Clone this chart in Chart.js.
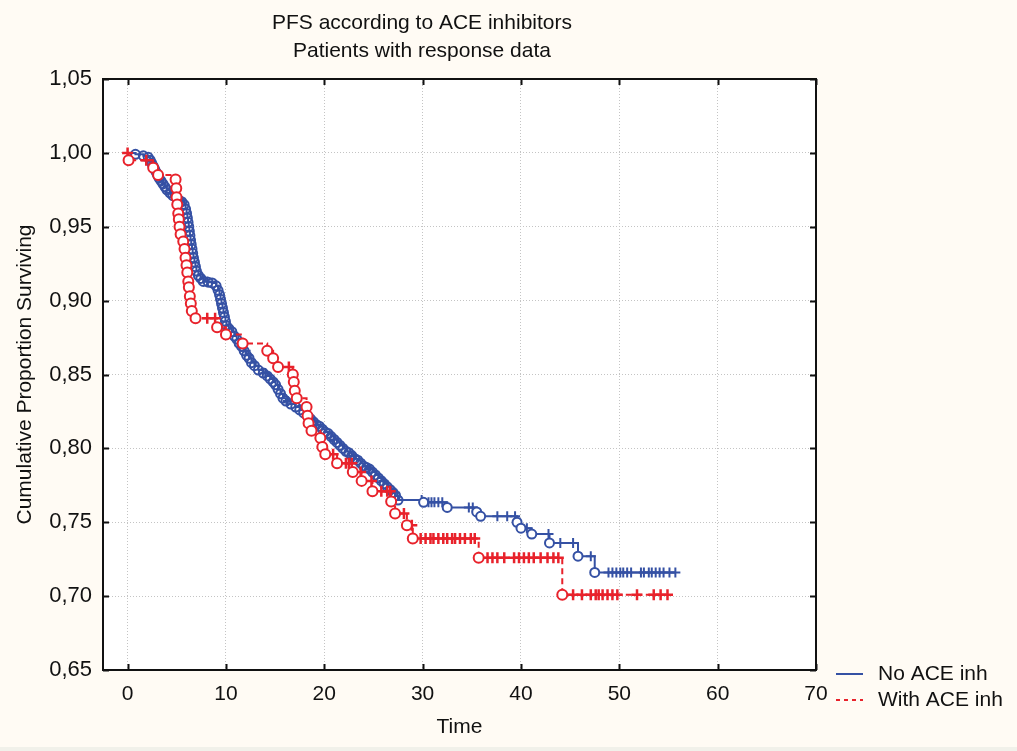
<!DOCTYPE html>
<html>
<head>
<meta charset="utf-8">
<script src="https://cdn.jsdelivr.net/npm/chart.js@4.4.0/dist/chart.umd.min.js"></script>
<style>
  html, body { margin: 0; padding: 0; background: #fffbf4; }
  #wrap { position: relative; width: 1017px; height: 751px; overflow: hidden; }
  #wrap:after { content: ''; position: absolute; left: 0; right: 0; bottom: 0; height: 4px; background: #f1f1ea; }
  canvas { display: block; }
</style>
</head>
<body>
<div id="wrap"><canvas id="km" width="1017" height="751"></canvas></div>
<script>
const TITLE = ['PFS according to ACE inhibitors', 'Patients with response data'];
const X_LABEL = 'Time';
const Y_LABEL = 'Cumulative Proportion Surviving';
const SERIES = ['No ACE inh', 'With ACE inh'];
const X_TICKS = [0, 10, 20, 30, 40, 50, 60, 70];
const Y_TICKS = [0.65, 0.70, 0.75, 0.80, 0.85, 0.90, 0.95, 1.00, 1.05];

// No ACE inh: event times / survival after each event, censored times
const noAceTime = [0.8, 1.6, 2.1, 2.3, 2.45, 2.6, 2.75, 2.9, 3.05, 3.2,
  3.4, 3.6, 3.8, 4.0, 4.3, 4.6, 4.9, 5.2, 5.5, 5.75,
  5.9, 6.0, 6.08, 6.15, 6.22, 6.28, 6.34, 6.4, 6.47, 6.55,
  6.62, 6.7, 6.8, 6.9, 7.0, 7.2, 7.45, 7.7, 8.2, 8.6,
  9.0, 9.2, 9.35, 9.45, 9.55, 9.65, 9.75, 9.85, 9.95, 10.05,
  10.3, 10.6, 10.85, 11.1, 11.35, 11.6, 11.85, 12.1, 12.35, 12.6,
  12.9, 13.3, 13.8, 14.2, 14.5, 14.8, 15.05, 15.3, 15.55, 15.8,
  16.1, 16.6, 17.1, 17.5, 17.9, 18.3, 18.6, 18.9, 19.2, 19.5,
  19.8, 20.1, 20.4, 20.7, 21.0, 21.3, 21.6, 21.9, 22.2, 22.5,
  22.8, 23.1, 23.4, 23.7, 24.0, 24.3, 24.6, 24.9, 25.2, 25.5,
  25.8, 26.1, 26.4, 26.7, 27.0, 27.25, 27.5, 30.1, 32.5, 35.5,
  35.9, 39.6, 40.0, 41.1, 42.9, 45.8, 47.5];
const noAceSurv = [0.999, 0.998, 0.997, 0.995, 0.993, 0.991, 0.989, 0.987, 0.985, 0.983,
  0.981, 0.979, 0.977, 0.975, 0.973, 0.971, 0.970, 0.968, 0.967, 0.965,
  0.962, 0.959, 0.956, 0.953, 0.950, 0.947, 0.944, 0.941, 0.938, 0.935,
  0.932, 0.929, 0.926, 0.923, 0.920, 0.917, 0.915, 0.913, 0.9125, 0.912,
  0.910, 0.907, 0.904, 0.901, 0.898, 0.895, 0.892, 0.889, 0.886, 0.883,
  0.881, 0.879, 0.876, 0.874, 0.871, 0.869, 0.866, 0.863, 0.861, 0.858,
  0.856, 0.853, 0.851, 0.849, 0.847, 0.845, 0.843, 0.840, 0.837, 0.834,
  0.832, 0.830, 0.828, 0.826, 0.824, 0.822, 0.820, 0.818, 0.816, 0.815,
  0.813, 0.811, 0.810, 0.808, 0.806, 0.804, 0.802, 0.800, 0.798, 0.797,
  0.795, 0.793, 0.792, 0.790, 0.788, 0.787, 0.786, 0.784, 0.782, 0.780,
  0.778, 0.776, 0.774, 0.772, 0.770, 0.768, 0.765, 0.7635, 0.760, 0.757,
  0.754, 0.750, 0.746, 0.742, 0.736, 0.727, 0.716];
const noAceCensored = [4.4, 8.1, 12.0, 14.0, 16.3, 19.2, 21.0, 23.0, 24.6, 26.0, 27.2, 29.9, 30.6, 30.9, 31.2, 31.6, 32.0, 34.7, 35.1,
  37.6, 38.6, 39.4, 40.6, 42.8, 44.0, 45.3, 47.1, 48.9, 49.3, 49.7, 50.1, 50.4, 50.8, 51.2, 52.2, 52.5, 53.0, 53.3, 53.7, 54.1, 54.5, 55.1, 55.7];

// With ACE inh
const aceTime = [0.1, 2.6, 3.1, 4.88, 4.95, 4.98, 5.05, 5.15, 5.21, 5.28, 5.39, 5.66, 5.79, 5.89, 5.99, 6.07, 6.17, 6.23, 6.33, 6.43,
  6.53, 6.91, 9.1, 10.0, 11.7, 14.2, 14.8, 15.3, 16.8, 16.9, 17.0, 17.2, 18.2, 18.3, 18.4, 18.7, 19.6, 19.8, 20.1, 21.3,
  22.9, 23.8, 24.9, 26.8, 27.2, 28.4, 29.0, 35.7, 44.2];
const aceSurv = [0.995, 0.990, 0.985, 0.982, 0.976, 0.970, 0.965, 0.959, 0.955, 0.950, 0.945, 0.940, 0.935, 0.929, 0.924, 0.919, 0.913, 0.909, 0.903, 0.898,
  0.893, 0.888, 0.882, 0.877, 0.871, 0.866, 0.861, 0.855, 0.850, 0.845, 0.839, 0.834, 0.828, 0.822, 0.817, 0.812, 0.807, 0.801, 0.796, 0.790,
  0.784, 0.778, 0.771, 0.764, 0.756, 0.748, 0.739, 0.726, 0.701];
const aceCensored = [0, 1.9, 8.1, 8.9, 16.4, 20.9, 22.2, 22.5, 22.8, 23.7, 24.8, 25.8, 26.4, 26.7, 28.1, 28.9,
  29.8, 30.3, 30.8, 31.1, 31.6, 32.1, 32.5, 33.0, 33.3, 33.8, 34.3, 34.9, 35.3,
  36.6, 37.1, 37.6, 38.3, 39.3, 39.8, 40.3, 40.8, 41.3, 42.0, 42.7, 43.3, 43.8,
  45.3, 46.2, 47.1, 47.6, 47.9, 48.3, 48.8, 49.3, 49.8, 51.8, 53.5, 54.2, 54.9];

const BLUE = '#3551a4';
const RED = '#e8222b';
const FONT = '"Liberation Sans", Arial, sans-serif';

function survAt(times, surv, t) {
  let s = 1;
  times.forEach((tt, i) => { if (tt <= t) s = surv[i]; });
  return s;
}

function stepPoints(times, surv, cens) {
  const end = Math.max(times[times.length - 1], ...cens);
  return [{ x: 0, y: 1 }, ...times.map((t, i) => ({ x: t, y: surv[i] })), { x: end, y: surv[surv.length - 1] }];
}

const events = (times, surv) => times.map((t, i) => ({ x: t, y: surv[i] }));
const censored = (times, surv, cens) => cens.map(t => ({ x: t, y: survAt(times, surv, t) }));

// frame, inward ticks, title, axis titles and legend
const decor = {
  id: 'decor',
  beforeDraw(chart) {
    const { ctx, chartArea: a } = chart;
    ctx.save();
    ctx.fillStyle = '#fff';
    ctx.fillRect(a.left, a.top, a.right - a.left, a.bottom - a.top);
    ctx.restore();
  },
  afterDraw(chart) {
    const { ctx, chartArea: a, scales: { x, y } } = chart;
    ctx.save();
    ctx.strokeStyle = '#111';
    ctx.lineWidth = 2;
    ctx.strokeRect(a.left, a.top, a.right - a.left, a.bottom - a.top);
    ctx.beginPath();
    X_TICKS.forEach(v => {
      const px = Math.round(x.getPixelForValue(v)) + 0.5;
      ctx.moveTo(px, a.top); ctx.lineTo(px, a.top + 6);
      ctx.moveTo(px, a.bottom); ctx.lineTo(px, a.bottom - 6);
    });
    Y_TICKS.forEach(v => {
      const py = Math.round(y.getPixelForValue(v)) + 0.5;
      ctx.moveTo(a.left, py); ctx.lineTo(a.left + 6, py);
      ctx.moveTo(a.right, py); ctx.lineTo(a.right - 6, py);
    });
    ctx.stroke();

    ctx.fillStyle = '#111';
    ctx.font = '21px ' + FONT;
    ctx.textAlign = 'center';
    ctx.textBaseline = 'middle';
    TITLE.forEach((line, i) => ctx.fillText(line, 422, 23 + i * 28));
    ctx.fillText(X_LABEL, (a.left + a.right) / 2, 727);
    ctx.save();
    ctx.translate(25, (a.top + a.bottom) / 2);
    ctx.rotate(-Math.PI / 2);
    ctx.fillText(Y_LABEL, 0, 0);
    ctx.restore();

    // legend
    ctx.textAlign = 'left';
    [BLUE, RED].forEach((c, i) => {
      const ly = 674 + i * 26;
      ctx.strokeStyle = c;
      ctx.lineWidth = 2;
      ctx.setLineDash(i ? [4, 4] : []);
      ctx.beginPath();
      ctx.moveTo(836, ly); ctx.lineTo(863, ly);
      ctx.stroke();
      ctx.fillText(SERIES[i], 878, ly);
    });
    ctx.restore();
  }
};

Chart.defaults.font.family = FONT;
Chart.defaults.color = '#111';

new Chart(document.getElementById('km'), {
  type: 'scatter',
  data: {
    datasets: [
      { label: SERIES[1] + ' events', data: events(aceTime, aceSurv), pointStyle: 'circle', pointRadius: 5,
        borderColor: RED, backgroundColor: '#fff', borderWidth: 2 },
      { label: SERIES[1] + ' censored', data: censored(aceTime, aceSurv, aceCensored), pointStyle: 'cross', pointRadius: 5.5,
        borderColor: RED, borderWidth: 2.5 },
      { label: SERIES[1], data: stepPoints(aceTime, aceSurv, aceCensored), showLine: true, stepped: true, pointRadius: 0,
        borderColor: RED, borderWidth: 2, borderDash: [6, 4] },
      { label: SERIES[0] + ' events', data: events(noAceTime, noAceSurv), pointStyle: 'circle', pointRadius: 4.5,
        borderColor: BLUE, borderWidth: 2,
        // sparse tail markers are hollow white, dense band rings overlap
        backgroundColor: c => (c.raw && c.raw.x > 28 ? '#fff' : 'rgba(255,255,255,0)') },
      { label: SERIES[0] + ' censored', data: censored(noAceTime, noAceSurv, noAceCensored), pointStyle: 'cross', pointRadius: 5,
        borderColor: BLUE, borderWidth: 2 },
      { label: SERIES[0], data: stepPoints(noAceTime, noAceSurv, noAceCensored), showLine: true, stepped: true, pointRadius: 0,
        borderColor: BLUE, borderWidth: 2 },
    ],
  },
  options: {
    responsive: false,
    devicePixelRatio: 1,
    animation: false,
    layout: { padding: { top: 79, right: 201, left: 0, bottom: 0 } },
    plugins: { legend: { display: false }, tooltip: { enabled: false } },
    scales: {
      x: {
        type: 'linear', min: -2.5, max: 70,
        afterBuildTicks: s => { s.ticks = X_TICKS.map(v => ({ value: v })); },
        afterFit: s => { s.height = 81; },
        grid: { color: '#c4c4c4', drawTicks: false },
        border: { display: false, dash: [1, 2] },
        ticks: { font: { size: 21 }, padding: 12, maxRotation: 0 },
      },
      y: {
        type: 'linear', min: 0.65, max: 1.05,
        afterBuildTicks: s => { s.ticks = Y_TICKS.map(v => ({ value: v })); },
        afterFit: s => { s.width = 103; },
        grid: { color: '#c4c4c4', drawTicks: false },
        border: { display: false, dash: [1, 2] },
        ticks: { font: { size: 22 }, padding: 11, callback: v => v.toFixed(2).replace('.', ',') },
      },
    },
  },
  plugins: [decor],
});
</script>
</body>
</html>
